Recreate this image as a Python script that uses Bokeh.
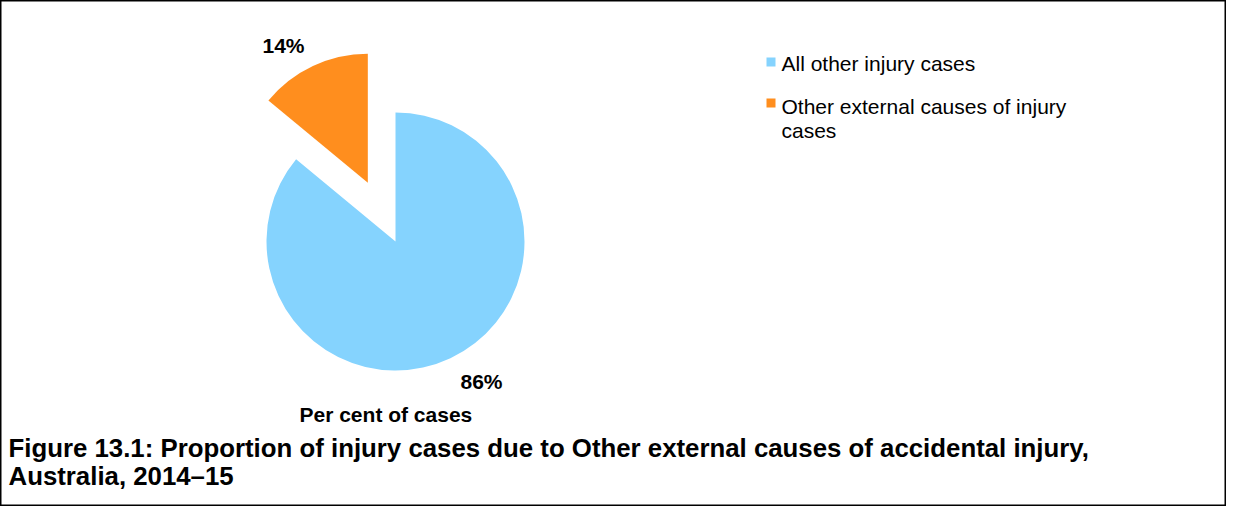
import numpy as np
from bokeh.plotting import figure
from bokeh.models import Range1d, ColumnDataSource
from bokeh.core.properties import value
from bokeh.embed import file_html
from bokeh.resources import INLINE

# ---- data ----
categories = ["All other injury cases", "Other external causes of injury cases"]
shares = [86, 14]
slice_labels = ["86%", "14%"]
colors = ["#85D3FE", "#FF8E1E"]
title_lines = ["Figure 13.1: Proportion of injury cases due to Other external causes of accidental injury,",
               "Australia, 2014\u201315"]
axis_title = "Per cent of cases"

W, H = 1226, 506
p = figure(width=W, height=H, output_backend="svg", toolbar_location=None,
           x_range=Range1d(0, W), y_range=Range1d(0, H), min_border=0)
p.axis.visible = False
p.grid.visible = False
p.outline_line_color = "black"
p.outline_line_width = 2
p.background_fill_color = "white"
p.border_fill_color = "white"

def Y(sy):
    return H - sy

# pie geometry (screen px)
cx, cy, r = 395, 241, 129
explode = [0, 65]

fr = np.array(shares, dtype=float) / sum(shares)
cum = np.concatenate([[0], np.cumsum(fr)])
# clockwise from 12 o'clock
ang = np.pi / 2 - 2 * np.pi * cum
starts = ang[1:]
ends = ang[:-1]
mids = (starts + ends) / 2
xs = [cx + e * np.cos(m) for e, m in zip(explode, mids)]
ys = [Y(cy) + e * np.sin(m) for e, m in zip(explode, mids)]
src = ColumnDataSource(dict(x=xs, y=ys, s=list(starts), e=list(ends), c=colors))
p.wedge(x="x", y="y", radius=r, start_angle="s", end_angle="e",
        fill_color="c", line_color=None, source=src)

bold = dict(text_font=value("Liberation Sans"), text_font_style="bold",
            text_color="black", text_baseline="alphabetic", text_align="left")
# slice labels
p.text(x=[460, 262], y=[Y(381), Y(45)], text=slice_labels, text_font_size="21px", **bold)
# category axis title
p.text(x=[299], y=[Y(414)], text=[axis_title], text_font_size="21px", **bold)

# legend
sq = 9
p.rect(x=[766 + sq / 2, 766 + sq / 2], y=[Y(57 + sq / 2), Y(98 + sq / 2)], width=sq, height=sq,
       fill_color=colors, line_color=None)
reg = dict(text_font=value("Liberation Sans"), text_color="black",
           text_baseline="alphabetic", text_align="left", text_font_size="21px")
leg_lines = [categories[0], "Other external causes of injury", "cases"]
p.text(x=[781, 781, 781], y=[Y(63), Y(106), Y(130)], text=leg_lines, **reg)

# figure title
p.text(x=[8, 8], y=[Y(447), Y(475)], text=title_lines, text_font_size="25.8px", **bold)

open("out.html", "w").write(file_html(p, INLINE))
